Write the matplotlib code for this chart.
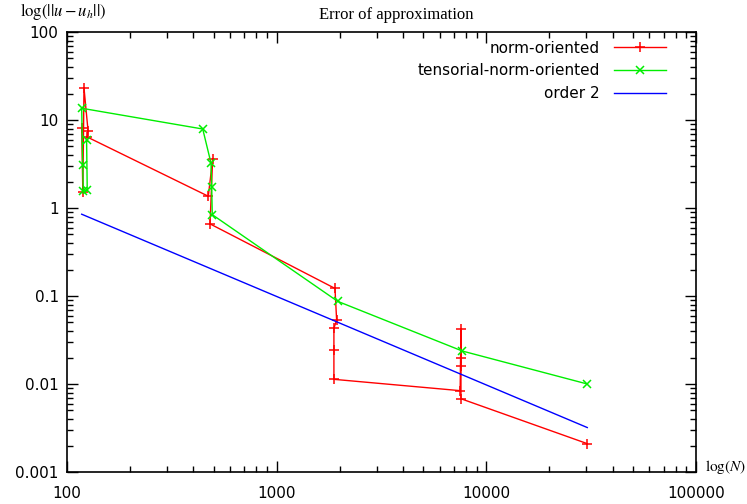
import matplotlib
matplotlib.use("Agg")
import matplotlib.pyplot as plt
from matplotlib.ticker import LogLocator, FixedLocator, FixedFormatter, NullFormatter

# ---- data ----
norm_N = [117.5, 119, 120.5, 126, 125, 472, 495, 481,
          1897, 1932, 1875, 1875, 1875,
          7500, 7568, 7568, 7568, 7568, 30300]
norm_err = [8.2, 1.53, 23.2, 7.55, 6.4, 1.36, 3.6, 0.66,
            0.122, 0.0533, 0.043, 0.0244, 0.0113,
            0.0084, 0.0418, 0.0196, 0.016, 0.0068, 0.0021]

tens_N = [124, 124.9, 119.6, 118.8, 117.5, 444, 486, 490, 493, 1954, 7680, 30300]
tens_err = [5.97, 1.6, 1.55, 3.1, 13.6, 7.9, 3.25, 1.72, 0.84, 0.087, 0.0237, 0.0100]

order2_N = [117.5, 30300]
order2_err = [0.85, 0.0032]

x_ticks = [100, 1000, 10000, 100000]
x_labels = ["100", "1000", "10000", "100000"]
y_ticks = [0.001, 0.01, 0.1, 1, 10, 100]
y_labels = ["0.001", "0.01", "0.1", "1", "10", "100"]

# ---- figure ----
plt.rcParams["mathtext.fontset"] = "stix"
fig = plt.figure(figsize=(7.47, 5.04), dpi=100)
ax = fig.add_axes([67/747, 1-472/504, (696-67)/747, (472-32)/504])

ax.plot(norm_N, norm_err, color="#ff0000", lw=1.0, marker="+", ms=7, mew=1.1,
        label="norm-oriented")
ax.plot(tens_N, tens_err, color="#00ee00", lw=1.0, marker="x", ms=5.5, mew=1.1,
        label="tensorial-norm-oriented")
ax.plot(order2_N, order2_err, color="#0000ff", lw=1.0, label="order 2")

ax.set_xscale("log")
ax.set_yscale("log")
ax.set_xlim(100, 100000)
ax.set_ylim(0.001, 100)

ax.xaxis.set_major_locator(FixedLocator(x_ticks))
ax.xaxis.set_major_formatter(FixedFormatter(x_labels))
ax.yaxis.set_major_locator(FixedLocator(y_ticks))
ax.yaxis.set_major_formatter(FixedFormatter(y_labels))
ax.xaxis.set_minor_locator(LogLocator(base=10, subs=range(2, 10)))
ax.yaxis.set_minor_locator(LogLocator(base=10, subs=range(2, 10)))
ax.xaxis.set_minor_formatter(NullFormatter())
ax.yaxis.set_minor_formatter(NullFormatter())

ax.tick_params(which="both", direction="in", top=True, right=True, width=1.0,
               labelsize=11)
ax.tick_params(which="major", length=8, pad=6)
ax.tick_params(axis="x", which="major", pad=10)
ax.tick_params(which="minor", length=4)
for s in ax.spines.values():
    s.set_linewidth(1.2)

fig.text(0.5 * (67 + 696) / 747 + 0.02, 1 - 15/504, "Error of approximation",
         ha="center", va="center", family="Liberation Serif", fontsize=12)
fig.text(20/747, 1 - 12/504, r"$\mathrm{log}(||u-u_h||)$",
         ha="left", va="center", fontsize=12)
fig.text(705/747, 1 - 467/504, r"$\mathrm{log}(N)$",
         ha="left", va="center", fontsize=11)

leg = ax.legend(loc="upper right", bbox_to_anchor=(0.952, 0.98), frameon=False,
                markerfirst=False, fontsize=11, handlelength=3.4,
                borderpad=0, borderaxespad=0, labelspacing=0.5, handletextpad=0.9)

fig.savefig("out.png", dpi=100)
